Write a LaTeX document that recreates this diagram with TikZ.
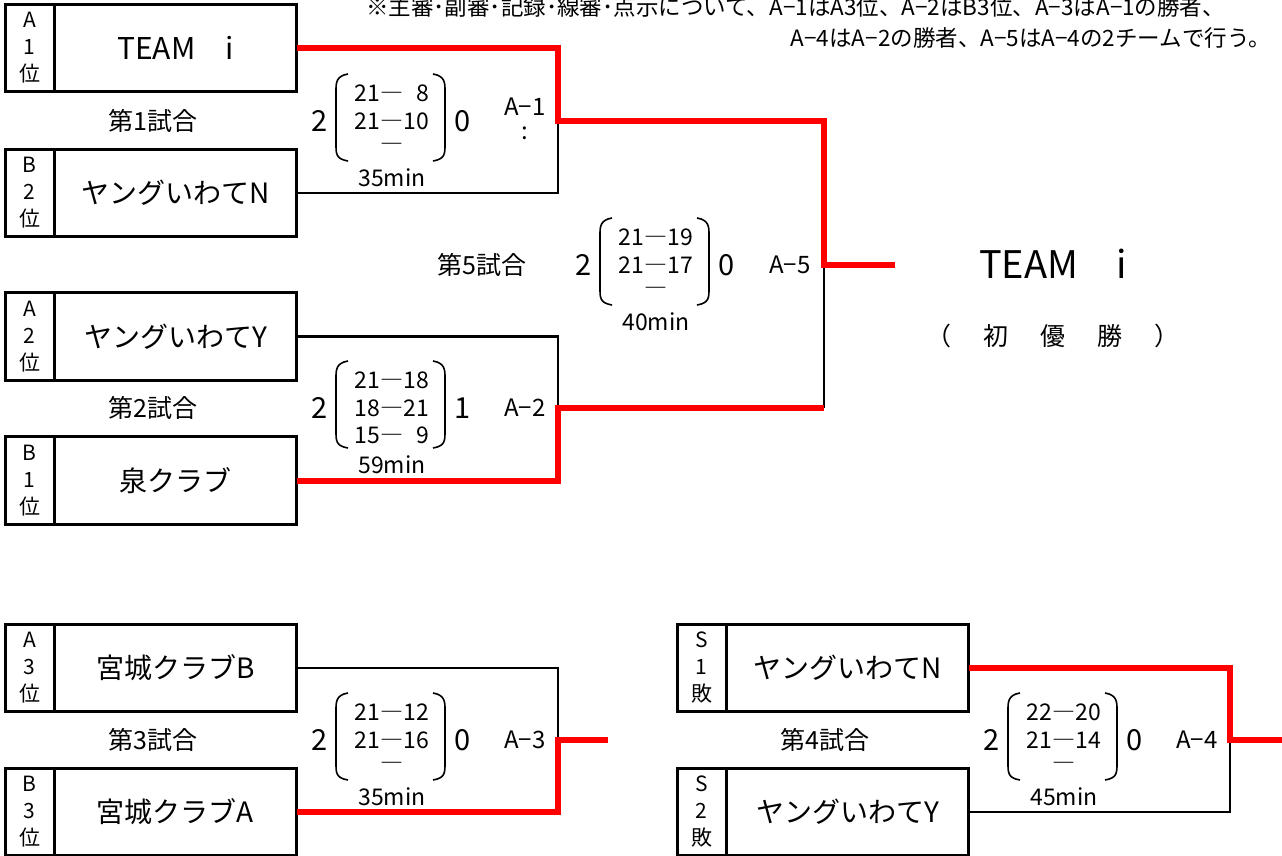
\documentclass[tikz,border=0pt]{standalone}
\usepackage{fontspec}
\setmainfont{Noto Sans CJK JP}
\tikzset{
  namebox/.style={draw, line width=1.2pt, minimum width=241pt, minimum height=86pt, inner sep=0pt, font=\fontsize{28}{34}\selectfont},
  rankbox/.style={draw, line width=1.2pt, minimum width=48pt, minimum height=86pt, inner sep=0pt, align=center, font=\fontsize{21}{27}\selectfont},
  outerbox/.style={line width=3pt},
  win/.style={draw=red, line width=6pt},
  lose/.style={draw=black, line width=2.8pt},
  paren/.style={line width=1.6pt},
  gamelbl/.style={inner sep=0pt, font=\fontsize{25}{30}\selectfont},
  bigdigit/.style={inner sep=0pt, font=\fontsize{29}{34}\selectfont},
  scoreline/.style={inner sep=0pt, font=\fontsize{23}{27}\selectfont},
  tag/.style={inner sep=0pt, font=\fontsize{24}{28}\selectfont},
  note/.style={inner sep=0pt, font=\fontsize{22.5}{27}\selectfont},
}
\newcommand\TeamBox[6]{%
  \node[namebox] (#1) at (#3,#4) {#6};
  \node[rankbox, anchor=east] (#2) at (#1.west) {#5};
  \draw[outerbox] (#2.north west) rectangle (#1.south east);
}
\newcommand\ScoreBlock[9]{%
  \node[bigdigit] (#9l) at ({#1-72},#2) {#3};
  \node[bigdigit] (#9r) at ({#1+71},#2) {#4};
  \node[scoreline] (#9a) at (#1,{#2-28}) {#5};
  \node[scoreline] (#9b) at (#1,#2) {#6};
  \node[scoreline] (#9c) at (#1,{#2+27}) {#7};
  \node[scoreline] (#9m) at (#1,{#2+57}) {#8};
  \draw[paren] ({#1-44},{#2-47}) .. controls ({#1-56},{#2-45}) and ({#1-56},{#2-38}) .. ({#1-56},{#2-30})
     -- ({#1-56},{#2+23}) .. controls ({#1-56},{#2+33}) and ({#1-56},{#2+38}) .. ({#1-44},{#2+40});
  \draw[paren] ({#1+41},{#2-47}) .. controls ({#1+53},{#2-45}) and ({#1+53},{#2-38}) .. ({#1+53},{#2-30})
     -- ({#1+53},{#2+23}) .. controls ({#1+53},{#2+33}) and ({#1+53},{#2+38}) .. ({#1+41},{#2+40});
}
\begin{document}
\begin{tikzpicture}[x=1pt,y=-1pt]
\useasboundingbox[fill=white] (0,0) rectangle (1282,856);

% note
\node[note, anchor=west] (note1) at (366,7) {※主審･副審･記録･線審･点示について、A−1はA3位、A−2はB3位、A−3はA−1の勝者、};
\node[note, anchor=east] (note2) at (1271,38) {A−4はA−2の勝者、A−5はA−4の2チームで行う。};

% teams
\TeamBox{t1}{r1}{175.5}{48}{A\\1\\位}{\fontsize{30}{34}\selectfont TEAM　i}
\TeamBox{t2}{r2}{175.5}{193}{B\\2\\位}{ヤングいわてN}
\TeamBox{t3}{r3}{175.5}{336.5}{A\\2\\位}{ヤングいわてY}
\TeamBox{t4}{r4}{175.5}{480.5}{B\\1\\位}{泉クラブ}
\TeamBox{t5}{r5}{175.5}{668}{A\\3\\位}{宮城クラブB}
\TeamBox{t6}{r6}{175.5}{812}{B\\3\\位}{宮城クラブA}
\TeamBox{t7}{r7}{847.5}{668}{S\\1\\敗}{ヤングいわてN}
\TeamBox{t8}{r8}{847.5}{812}{S\\2\\敗}{ヤングいわてY}

% game labels
\node[gamelbl] (g1) at (153,121) {第1試合};
\node[gamelbl] (g2) at (153,408) {第2試合};
\node[gamelbl] (g3) at (153,740) {第3試合};
\node[gamelbl] (g4) at (825,740) {第4試合};
\node[gamelbl] (g5) at (482,265) {第5試合};

% scores
\ScoreBlock{392}{121}{2}{0}{21―\phantom{0}8}{21―10}{―}{35min}{s1}
\ScoreBlock{392}{408}{2}{1}{21―18}{18―21}{15―\phantom{0}9}{59min}{s2}
\ScoreBlock{392}{740}{2}{0}{21―12}{21―16}{―}{35min}{s3}
\ScoreBlock{1064}{740}{2}{0}{22―20}{21―14}{―}{45min}{s4}
\ScoreBlock{656}{265}{2}{0}{21―19}{21―17}{―}{40min}{s5}

% tags
\node[tag] (a1) at (525,107) {A−1};
\node[tag] (a1b) at (525,133) {:};
\node[tag] (a2) at (525,408) {A−2};
\node[tag] (a3) at (525,740) {A−3};
\node[tag] (a4) at (1197,740) {A−4};
\node[tag] (a5) at (790,265) {A−5};

% junctions
\coordinate (j1) at (558,121);
\coordinate (j2) at (558,408);
\coordinate (k2) at (824,408);
\coordinate (j5) at (824,265);
\coordinate (w) at (895,265);
\coordinate (j3) at (558,740);
\coordinate (e3) at (608,740);
\coordinate (j4) at (1230,740);
\coordinate (e4) at (1282,740);

% losers
\draw[lose] (t2.east) -| (j1);
\draw[lose] (t3.east) -| (j2);
\draw[lose] (k2) -- (j5);
\draw[lose] (t5.east) -| (j3);
\draw[lose] (t8.east) -| (j4);

% winners
\draw[win] (t1.east) -| (j1) -| (j5) -- (w);
\draw[win] (t4.east) -| (j2) -- (k2);
\draw[win] (t6.east) -| (j3) -- (e3);
\draw[win] (t7.east) -| (j4) -- (e4);

% champion
\node[inner sep=0pt, font=\fontsize{38}{42}\selectfont] (champ) at (1053,264) {TEAM　i};
\node[inner sep=0pt, font=\fontsize{25}{30}\selectfont] (champ2) at (1053,336) {（\hspace{32pt}初\hspace{32pt}優\hspace{32pt}勝\hspace{32pt}）};
\end{tikzpicture}
\end{document}
